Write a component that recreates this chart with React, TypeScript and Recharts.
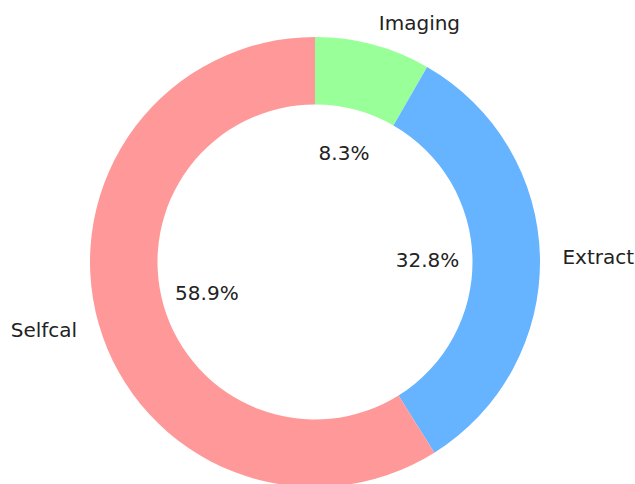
import { PieChart, Pie, Cell } from "recharts";

const FONT = "'DejaVu Sans', sans-serif";
const RADIAN = Math.PI / 180;

// slices go clockwise from 12 o'clock
const stages = ["Imaging", "Extract", "Selfcal"];
const shares = [8.3, 32.8, 58.9];
const colors = ["#99ff99", "#66b3ff", "#ff9999"];

const data = stages.map((name, i) => ({ name, value: shares[i] }));
const total = shares.reduce((a, b) => a + b, 0);

const renderLabel = (props: any) => {
  const { cx, cy, midAngle, outerRadius, index } = props;
  const cos = Math.cos(-midAngle * RADIAN);
  const sin = Math.sin(-midAngle * RADIAN);
  const lx = cx + outerRadius * 1.1 * cos;
  const ly = cy + outerRadius * 1.1 * sin;
  const px = cx + outerRadius * 0.5 * cos;
  const py = cy + outerRadius * 0.5 * sin;
  const pct = ((shares[index] / total) * 100).toFixed(1) + "%";
  return (
    <g>
      <text
        x={lx}
        y={ly}
        textAnchor={lx > cx ? "start" : "end"}
        dominantBaseline="central"
        fill="#222"
        fontSize={20}
        fontFamily={FONT}
      >
        {stages[index]}
      </text>
      <text
        x={px}
        y={py}
        textAnchor="middle"
        dominantBaseline="central"
        fill="#222"
        fontSize={20}
        fontFamily={FONT}
      >
        {pct}
      </text>
    </g>
  );
};

export default function App() {
  return (
    <div style={{ position: "absolute", left: 0, top: 0, background: "#fff" }}>
      <PieChart width={635} height={484} margin={{ top: 0, right: 0, bottom: 0, left: 0 }}>
        <Pie
          data={data}
          dataKey="value"
          nameKey="name"
          cx={315}
          cy={262}
          innerRadius={157.5}
          outerRadius={225}
          startAngle={90}
          endAngle={-270}
          stroke="none"
          label={renderLabel}
          labelLine={false}
          isAnimationActive={false}
        >
          {data.map((d, i) => (
            <Cell key={d.name} fill={colors[i]} />
          ))}
        </Pie>
      </PieChart>
    </div>
  );
}
